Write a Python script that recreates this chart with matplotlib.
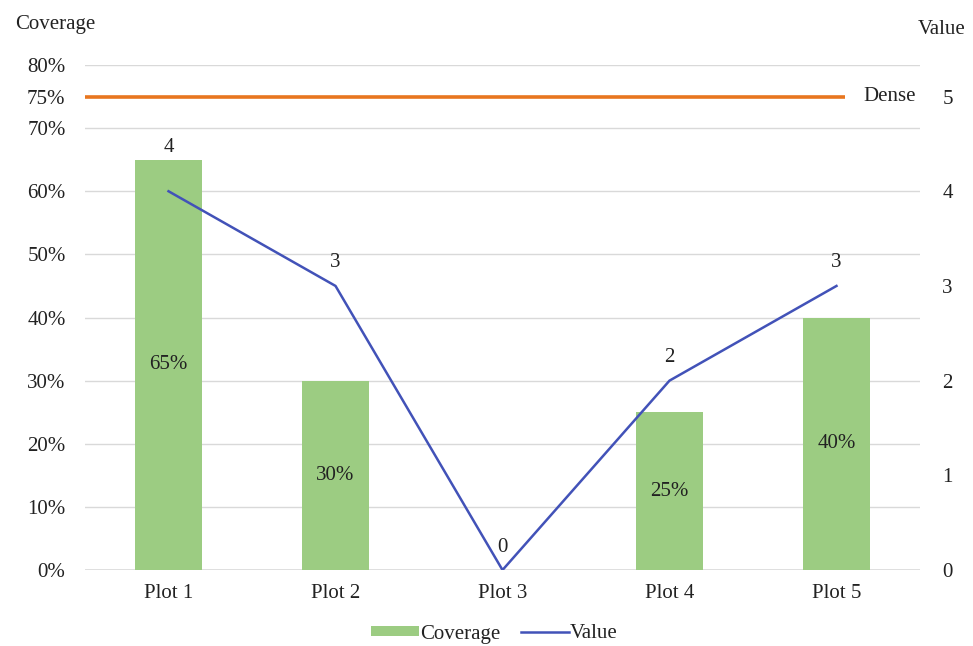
import matplotlib
matplotlib.use("Agg")
import matplotlib.pyplot as plt
from matplotlib.patches import Patch
from matplotlib.lines import Line2D

plt.rcParams['font.family'] = ['Liberation Serif', 'DejaVu Serif']

categories = ["Plot 1", "Plot 2", "Plot 3", "Plot 4", "Plot 5"]
coverage = [0.65, 0.30, 0.0, 0.25, 0.40]
value = [4, 3, 0, 2, 3]
dense_threshold = 0.75
left_ticks = [0.0, 0.1, 0.2, 0.3, 0.4, 0.5, 0.6, 0.7, 0.75, 0.8]
right_ticks = [0, 1, 2, 3, 4, 5]
value_label_offsets = [44, 23, 23, 23, 23]  # pixels above each point

GREEN = "#9ccc82"
BLUE = "#4252b8"
ORANGE = "#e8761f"
GRID = "#d9d9d9"
FS = 15

fig = plt.figure(figsize=(9.73, 6.46), dpi=100)
ax = fig.add_axes([0.0874, 0.1176, 0.8581, 0.7818])
x = list(range(len(categories)))

ax.set_xlim(-0.5, len(categories) - 0.5)
ax.set_ylim(0, 0.80)
for t in [0.1, 0.2, 0.3, 0.4, 0.5, 0.6, 0.7, 0.8]:
    ax.axhline(t, color=GRID, lw=1, zorder=0)
ax.axhline(0, color=GRID, lw=1.2, zorder=0)

bars = ax.bar(x, coverage, width=0.4, color=GREEN, zorder=2)
for xi, c in zip(x, coverage):
    if c > 0:
        ax.text(xi, c / 2, f"{int(round(c * 100))}%", ha="center", va="center",
                fontsize=FS, color="#222222", zorder=5)

ax.hlines(dense_threshold, -0.5, 4.05, color=ORANGE, lw=2.6, zorder=3)
ax.text(4.16, dense_threshold, "Dense", ha="left", va="center", fontsize=FS, color="#222222")

ax.set_yticks(left_ticks)
ax.set_yticklabels([f"{int(round(t * 100))}%" for t in left_ticks])
ax.set_xticks(x)
ax.set_xticklabels(categories)
ax.tick_params(axis="both", length=0, labelsize=FS, colors="#222222")
ax.tick_params(axis="y", pad=14)
ax.tick_params(axis="x", pad=10)
for s in ax.spines.values():
    s.set_visible(False)

ax2 = ax.twinx()
ax2.set_ylim(0, 5 * 0.80 / dense_threshold)
ax2.plot(x, value, color=BLUE, lw=1.8, zorder=4)
for xi, v, off in zip(x, value, value_label_offsets):
    ax2.annotate(str(v), (xi, v), xytext=(0, off), textcoords="offset pixels",
                 ha="center", va="center", fontsize=FS, color="#222222")
ax2.set_yticks(right_ticks)
ax2.tick_params(axis="y", length=0, labelsize=FS, colors="#222222", pad=16)
for s in ax2.spines.values():
    s.set_visible(False)

fig.text(15 / 973, 1 - 25 / 646, "Coverage", ha="left", va="center", fontsize=FS, color="#222222")
fig.text(966 / 973, 1 - 29 / 646, "Value", ha="right", va="center", fontsize=FS, color="#222222")

handles = [Patch(facecolor=GREEN, edgecolor="none"),
           Line2D([0], [0], color=BLUE, lw=1.8)]
leg = fig.legend(handles, ["Coverage", "Value"], loc="center",
                 bbox_to_anchor=(0.508, 1 - 634 / 646), ncol=2, frameon=False,
                 fontsize=FS, handlelength=2.3, handleheight=0.4,
                 handletextpad=0.05, columnspacing=1.0)
for t in leg.get_texts():
    t.set_color("#222222")

fig.savefig("out.png", dpi=100, facecolor="white")
